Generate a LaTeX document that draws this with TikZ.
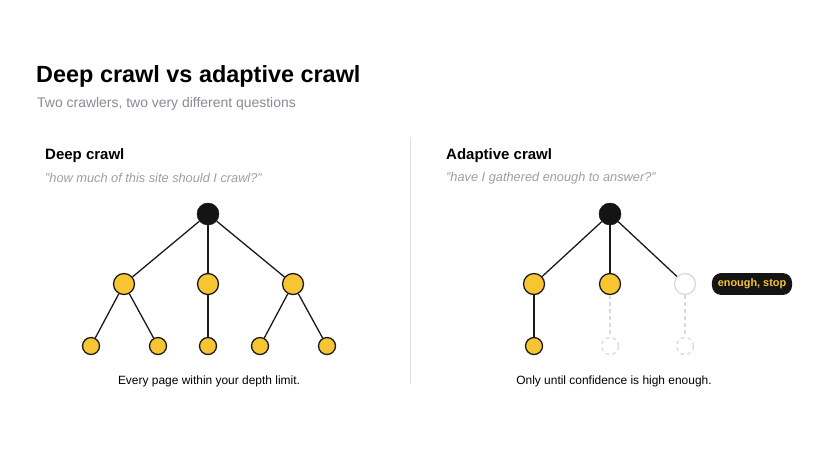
\documentclass[tikz,border=0pt]{standalone}
\usepackage{fontspec}
\setmainfont{Liberation Sans}
\definecolor{ylw}{HTML}{F7C531}
\definecolor{subg}{HTML}{8A8A96}
\begin{document}
\begin{tikzpicture}[x=0.03cm,y=-0.03cm,
  ynode/.style={circle,draw=black!90,line width=1.1pt,fill=ylw,inner sep=0pt},
  mid/.style={ynode,minimum size=0.63cm},
  leaf/.style={ynode,minimum size=0.51cm},
  rootn/.style={circle,fill=black!92,draw=black!92,minimum size=0.66cm,inner sep=0pt},
  ghost/.style={circle,draw=gray!30,line width=1.1pt,fill=white,inner sep=0pt},
  ghostd/.style={ghost,dashed,minimum size=0.51cm},
  edge/.style={line width=1.1pt,black!90},
  gedge/.style={line width=1.1pt,gray!30,dashed},
  lbl/.style={anchor=west,inner sep=0pt}]
\path[fill=white] (0,0) rectangle (825,466);
\useasboundingbox (0,0) rectangle (825,466);
\node[lbl,font=\bfseries\fontsize{20}{24}\selectfont] (t) at (36,76) {Deep crawl vs adaptive crawl};
\node[lbl,text=subg,font=\fontsize{11.9}{14}\selectfont] (s) at (37,104) {Two crawlers, two very different questions};
\draw[gray!25,line width=0.8pt] (410,137) coordinate (d1) -- (410,384) coordinate (d2);
\node[lbl,font=\bfseries\fontsize{12.8}{15}\selectfont] (h1) at (45,156) {Deep crawl};
\node[lbl,font=\bfseries\fontsize{12.8}{15}\selectfont] (h2) at (446,156) {Adaptive crawl};
\node[lbl,text=gray!75,font=\itshape\fontsize{10.9}{13}\selectfont] (q1) at (45,178) {"how much of this site should I crawl?"};
\node[lbl,text=gray!75,font=\itshape\fontsize{10.9}{13}\selectfont] (q2) at (446,178) {"have I gathered enough to answer?"};
\node[font=\fontsize{10.2}{12}\selectfont] (c1) at (209,381) {Every page within your depth limit.};
\node[font=\fontsize{10.2}{12}\selectfont] (c2) at (614,381) {Only until confidence is high enough.};
\node[rootn] (r) at (208,214) {};
\node[mid] (a) at (124,284) {};
\node[mid] (b) at (208,284) {};
\node[mid] (c) at (293,284) {};
\node[leaf] (a1) at (91,346) {};
\node[leaf] (a2) at (158,346) {};
\node[leaf] (b1) at (208,346) {};
\node[leaf] (c1l) at (260,346) {};
\node[leaf] (c2l) at (327,346) {};
\foreach \u/\w in {r/a,r/b,r/c,a/a1,a/a2,b/b1,c/c1l,c/c2l} \draw[edge] (\u) -- (\w);
\node[rootn] (R) at (610,214) {};
\node[mid] (A) at (534,284) {};
\node[mid] (B) at (610,284) {};
\node[ghost,minimum size=0.63cm] (C) at (685,284) {};
\node[leaf] (A1) at (534,346) {};
\node[ghostd] (B1) at (610,346) {};
\node[ghostd] (C1) at (685,346) {};
\foreach \u/\w in {R/A,R/B,R/C,A/A1} \draw[edge] (\u) -- (\w);
\draw[gedge] (B) -- (B1);
\draw[gedge] (C) -- (C1);
\node[fill=black!92,text=ylw,rounded corners=8pt,font=\bfseries\fontsize{9.3}{11}\selectfont,inner xsep=5pt,inner ysep=5pt] (badge) at (752,284) {enough, stop};
\end{tikzpicture}
\end{document}
